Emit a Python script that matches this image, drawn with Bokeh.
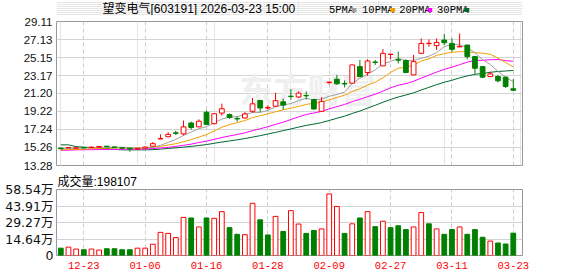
from bokeh.plotting import figure
from bokeh.models import Range1d, FixedTicker, Grid, PrintfTickFormatter, ColumnDataSource
from bokeh.core.properties import value
from bokeh.layouts import column
from bokeh.embed import file_html
from bokeh.resources import INLINE

# ---------------- data ----------------
stock_title = "望变电气[603191] 2026-03-23 15:00"
watermark = "东方财富"
dates = ["12-18", "12-19", "12-22", "12-23", "12-24", "12-25", "12-26", "12-29", "12-30", "12-31",
         "01-05", "01-06", "01-07", "01-08", "01-09", "01-12", "01-13", "01-14", "01-15", "01-16",
         "01-19", "01-20", "01-21", "01-22", "01-23", "01-26", "01-27", "01-28", "01-29", "01-30",
         "02-02", "02-03", "02-04", "02-05", "02-06", "02-09", "02-10", "02-11", "02-12", "02-13",
         "02-24", "02-25", "02-26", "02-27", "03-02", "03-03", "03-04", "03-05", "03-06", "03-09",
         "03-10", "03-11", "03-12", "03-13", "03-16", "03-17", "03-18", "03-19", "03-20", "03-23"]
opens = [15.20, 15.22, 15.18, 15.26, 15.24, 15.30, 15.40, 15.32, 15.24, 15.18,
         15.10, 15.18, 15.40, 16.20, 16.44, 16.88, 16.75, 17.95, 17.53, 19.13,
         17.88, 19.04, 18.88, 18.44, 18.51, 19.24, 20.42, 19.60, 19.80, 20.28,
         20.90, 20.81, 20.98, 20.52, 19.24, 22.40, 22.77, 22.30, 22.33, 24.15,
         23.50, 24.66, 24.23, 25.48, 24.90, 24.81, 23.24, 25.61, 26.68, 26.45,
         27.07, 26.70, 26.32, 26.52, 25.25, 24.15, 23.06, 23.06, 22.99, 21.72]
closes = [15.12, 15.26, 15.22, 15.22, 15.30, 15.36, 15.34, 15.24, 15.18, 15.10,
          15.16, 15.30, 15.68, 16.24, 16.70, 16.82, 17.53, 17.46, 18.15, 17.80,
          18.97, 19.52, 18.55, 18.40, 18.95, 20.06, 19.60, 19.66, 20.41, 19.92,
          20.86, 21.24, 20.94, 19.49, 20.33, 22.44, 22.26, 22.24, 24.34, 23.06,
          24.77, 24.60, 25.61, 25.52, 24.86, 23.50, 24.70, 26.70, 26.72, 26.81,
          26.77, 26.05, 26.36, 25.25, 23.97, 22.99, 23.35, 22.59, 21.97, 21.55]
highs = [15.22, 15.30, 15.26, 15.28, 15.38, 15.42, 15.44, 15.34, 15.26, 15.20,
         15.20, 15.40, 15.86, 16.70, 16.95, 17.10, 18.22, 18.10, 18.35, 19.33,
         19.06, 20.08, 18.99, 18.70, 19.15, 20.70, 20.50, 19.90, 21.28, 20.63,
         21.68, 21.43, 21.43, 20.62, 20.81, 22.52, 23.24, 22.63, 24.36, 24.88,
         24.95, 24.88, 26.08, 25.55, 25.80, 24.95, 25.43, 27.25, 27.14, 27.25,
         27.72, 27.25, 27.79, 26.52, 25.32, 24.22, 23.61, 23.24, 23.06, 22.77]
lows = [15.08, 15.18, 15.15, 15.18, 15.20, 15.28, 15.30, 15.20, 15.12, 14.80,
        15.05, 15.15, 15.38, 16.18, 16.40, 16.62, 16.59, 17.24, 17.50, 17.72,
        17.80, 18.75, 18.42, 18.10, 18.44, 19.06, 19.17, 19.42, 19.71, 19.42,
        20.52, 20.70, 20.52, 19.42, 19.24, 22.20, 22.15, 21.86, 22.30, 22.99,
        23.13, 24.34, 24.20, 24.95, 24.50, 23.43, 23.24, 25.61, 26.34, 25.97,
        26.52, 25.79, 26.30, 24.95, 23.35, 22.88, 23.00, 22.41, 21.79, 21.50]
volumes = [65000, 74000, 57000, 51000, 57000, 48000, 60000, 60000, 51000, 51000,
           65000, 65000, 100000, 205000, 196000, 159000, 338000, 333000, 253000, 333000,
           330000, 389000, 247000, 188000, 185000, 463000, 316000, 182000, 347000, 213000,
           398000, 279000, 196000, 222000, 236000, 546000, 435000, 196000, 281000, 333000,
           389000, 256000, 304000, 247000, 264000, 230000, 253000, 381000, 281000, 236000,
           188000, 230000, 253000, 188000, 230000, 162000, 128000, 111000, 102000, 198107]
vol_up = [0, 1, 1, 0, 1, 1, 0, 0, 0, 0,
          1, 1, 1, 1, 1, 1, 1, 0, 1, 0,
          1, 1, 0, 0, 1, 1, 0, 0, 1, 0,
          1, 1, 0, 0, 1, 1, 1, 0, 1, 0,
          1, 0, 1, 0, 0, 0, 1, 1, 0, 1,
          0, 0, 1, 0, 0, 0, 1, 0, 0, 0]
ma5 = [15.10, 15.15, 15.18, 15.20, 15.22, 15.27, 15.29, 15.29, 15.28, 15.24,
       15.20, 15.20, 15.28, 15.50, 15.82, 16.15, 16.59, 16.95, 17.33, 17.55,
       17.98, 18.38, 18.60, 18.65, 18.88, 19.10, 19.11, 19.33, 19.74, 19.93,
       20.09, 20.42, 20.67, 20.49, 20.57, 20.89, 21.09, 21.35, 22.32, 22.87,
       23.33, 23.80, 24.48, 24.71, 25.07, 24.82, 24.84, 25.06, 25.30, 25.69,
       26.34, 26.61, 26.54, 26.25, 25.68, 24.92, 24.38, 23.63, 22.97, 22.49]
ma10 = [15.00, 15.02, 15.05, 15.08, 15.12, 15.16, 15.19, 15.21, 15.22, 15.23,
        15.24, 15.24, 15.29, 15.39, 15.53, 15.68, 15.90, 16.12, 16.41, 16.68,
        17.07, 17.49, 17.77, 17.99, 18.22, 18.54, 18.75, 18.97, 19.19, 19.40,
        19.59, 19.77, 20.00, 20.11, 20.25, 20.49, 20.76, 21.01, 21.41, 21.72,
        22.11, 22.45, 22.91, 23.52, 23.97, 24.08, 24.32, 24.77, 25.00, 25.38,
        25.58, 25.72, 25.80, 25.77, 25.68, 25.63, 25.50, 25.09, 24.61, 24.09]
ma20 = [14.95, 14.96, 15.00, 15.01, 15.02, 15.03, 15.04, 15.05, 15.06, 15.07,
        15.08, 15.10, 15.14, 15.20, 15.28, 15.38, 15.50, 15.63, 15.80, 15.96,
        16.15, 16.36, 16.53, 16.69, 16.87, 17.11, 17.32, 17.54, 17.80, 18.04,
        18.33, 18.63, 18.89, 19.05, 19.23, 19.51, 19.75, 19.99, 20.30, 20.56,
        20.85, 21.11, 21.46, 21.82, 22.11, 22.28, 22.54, 22.89, 23.21, 23.55,
        23.85, 24.09, 24.36, 24.64, 24.83, 24.85, 24.91, 24.93, 24.81, 24.73]
ma30 = [15.55, 15.55, 15.35, 15.30, 15.25, 15.20, 15.15, 15.05, 15.00, 15.00,
        15.00, 15.00, 15.02, 15.08, 15.15, 15.22, 15.30, 15.38, 15.48, 15.58,
        15.72, 15.86, 15.98, 16.10, 16.24, 16.40, 16.56, 16.74, 16.92, 17.11,
        17.30, 17.50, 17.69, 17.83, 18.00, 18.23, 18.47, 18.70, 19.00, 19.27,
        19.59, 19.90, 20.23, 20.54, 20.81, 21.03, 21.27, 21.58, 21.87, 22.17,
        22.43, 22.65, 22.91, 23.13, 23.30, 23.40, 23.52, 23.62, 23.67, 23.73]
price_ticks = [13.28, 15.26, 17.24, 19.22, 21.20, 23.17, 25.15, 27.13, 29.11]
vol_ticks = [0, 146350, 292700, 439050, 585400]
vol_tick_labels = ["0", "14.64万", "29.27万", "43.91万", "58.54万"]
date_tick_idx = [3, 11, 19, 27, 35, 43, 51, 59]
ma_names = ["5PMA", "10PMA", "20PMA", "30PMA"]

# ---------------- styles / layout ----------------
RED = "#ff0000"
GREEN = "#008000"
MA_COLORS = ["#a0a0a0", "#f0a000", "#ff00ff", "#006830"]
GRID = "#d4d4d4"
VGRID = "#cccccc"
FRAME = "#999999"
MIXED_FONT = "Liberation Sans, Noto Sans CJK SC"
W = 578
LEFT, RIGHT = 56, 56
XR = (-0.56, 60.2)
FRAME_W = W - LEFT - RIGHT
HEAD_H = 15
P_TOP, P_FRAME_H, P_BOT = 6, 144, 6
V_TOP, V_FRAME_H, V_BOT = 16, 68, 21

def x_at(px):
    return XR[0] + (px - LEFT) * (XR[1] - XR[0]) / FRAME_W

def y_at(rng, frame_top_px, frame_h, px):
    return rng[1] - (px - frame_top_px) * (rng[1] - rng[0]) / frame_h

n = len(dates)
xs = list(range(n))
cup = [c > o or (c == o and i > 0 and c >= closes[i - 1]) for i, (o, c) in enumerate(zip(opens, closes))]
src = ColumnDataSource(dict(
    x=xs, top=[max(o, c) for o, c in zip(opens, closes)],
    bottom=[min(o, c) for o, c in zip(opens, closes)],
    high=highs, low=lows,
    col=[RED if u else GREEN for u in cup], fill=["#ffffff" if u else GREEN for u in cup],
    vol=volumes, vcol=[RED if u else GREEN for u in vol_up],
    vfill=["#ffffff" if u else GREEN for u in vol_up]))

# ---------------- header: title + MA legend ----------------
ph = figure(width=W, height=HEAD_H, x_range=Range1d(0, W), y_range=Range1d(HEAD_H, 0),
            output_backend="svg", toolbar_location=None, x_axis_location=None, y_axis_location=None,
            min_border=0, outline_line_color=None, background_fill_color="white",
            border_fill_color="white")
ph.text(x=[57], y=[8.5], text=[stock_title], text_font=value(MIXED_FONT), text_font_size="12px",
        text_color="#000000", text_baseline="middle")
leg_text_x = [338, 379, 425, 472]
leg_box_x = [366, 414, 460, 506]
ph.text(x=leg_text_x, y=[9] * 4, text=ma_names, text_font=value("Liberation Mono"),
        text_font_size="10.5px", text_color="#000000", text_baseline="middle")
ph.rect(x=[b + 3 for b in leg_box_x], y=[9.5] * 4, width=6, height=4, fill_color=MA_COLORS,
        line_color=None)

# ---------------- price panel ----------------
PY = (price_ticks[0], price_ticks[-1])
p1 = figure(width=W, height=P_TOP + P_FRAME_H + P_BOT, x_range=Range1d(*XR), y_range=Range1d(*PY),
            output_backend="svg", toolbar_location=None, x_axis_location=None,
            min_border_left=LEFT, min_border_right=RIGHT, min_border_top=P_TOP, min_border_bottom=P_BOT,
            outline_line_color=FRAME, background_fill_color="white", border_fill_color="white")
p1.yaxis.ticker = FixedTicker(ticks=price_ticks)
p1.yaxis.formatter = PrintfTickFormatter(format="%.2f")
p1.yaxis.axis_line_color = None
p1.yaxis.major_tick_line_color = None
p1.yaxis.minor_tick_line_color = None
p1.yaxis.major_tick_out = 0
p1.yaxis.major_label_standoff = 4
p1.yaxis.major_label_text_font = "Liberation Sans"
p1.yaxis.major_label_text_font_size = "11.5px"
p1.yaxis.major_label_text_color = "#111111"
p1.ygrid.ticker = FixedTicker(ticks=price_ticks)
p1.ygrid.grid_line_color = GRID
p1.add_layout(Grid(dimension=0, ticker=FixedTicker(ticks=date_tick_idx), grid_line_color=VGRID,
                   grid_line_dash="4 3"))

# faint watermark
p1.text(x=[x_at(307)], y=[y_at(PY, 21, P_FRAME_H, 88)], text=[watermark],
        text_font=value("Noto Sans CJK SC"), text_font_size="34px", text_font_style="bold",
        text_color="#efefef", text_align="center", text_baseline="middle")

for vals, colr in zip([ma30, ma20, ma10, ma5], MA_COLORS[::-1]):
    p1.line(xs, vals, line_color=colr, line_width=1)
p1.segment(x0="x", y0="high", x1="x", y1="low", line_color="col", line_width=1, source=src)
p1.vbar(x="x", top="top", bottom="bottom", width=0.62, fill_color="fill", line_color="col",
        line_width=1, source=src)

# ---------------- volume panel ----------------
VY = (vol_ticks[0], vol_ticks[-1])
p2 = figure(width=W, height=V_TOP + V_FRAME_H + V_BOT, x_range=p1.x_range, y_range=Range1d(*VY),
            output_backend="svg", toolbar_location=None, title="成交量:" + str(volumes[-1]),
            min_border_left=LEFT, min_border_right=RIGHT, min_border_top=V_TOP, min_border_bottom=V_BOT,
            outline_line_color=FRAME, background_fill_color="white", border_fill_color="white")
p2.title.align = "left"
p2.title.offset = 1
p2.title.standoff = 2
p2.title.text_font = MIXED_FONT
p2.title.text_font_size = "12px"
p2.title.text_font_style = "normal"
p2.title.text_color = "#000000"
p2.yaxis.ticker = FixedTicker(ticks=vol_ticks)
p2.yaxis.major_label_overrides = {t: s for t, s in zip(vol_ticks, vol_tick_labels)}
p2.yaxis.axis_line_color = None
p2.yaxis.major_tick_line_color = None
p2.yaxis.minor_tick_line_color = None
p2.yaxis.major_tick_out = 0
p2.yaxis.major_label_standoff = 3
p2.yaxis.major_label_text_font = "DejaVu Sans, Noto Sans CJK SC"
p2.yaxis.major_label_text_font_size = "12.5px"
p2.yaxis.major_label_text_color = "#111111"
p2.xaxis.ticker = FixedTicker(ticks=date_tick_idx)
p2.xaxis.major_label_overrides = {i: dates[i] for i in date_tick_idx}
p2.xaxis.axis_line_color = None
p2.xaxis.major_tick_line_color = None
p2.xaxis.minor_tick_line_color = None
p2.xaxis.major_tick_out = 0
p2.xaxis.major_label_standoff = 6
p2.xaxis.major_label_text_font = "Liberation Mono"
p2.xaxis.major_label_text_font_size = "10.5px"
p2.xaxis.major_label_text_color = RED
p2.ygrid.ticker = FixedTicker(ticks=vol_ticks)
p2.ygrid.grid_line_color = GRID
p2.xgrid.ticker = FixedTicker(ticks=date_tick_idx)
p2.xgrid.grid_line_color = VGRID
p2.xgrid.grid_line_dash = "4 3"
p2.vbar(x="x", top="vol", bottom=0, width=0.62, fill_color="vfill", line_color="vcol",
        line_width=1, source=src)

layout = column(ph, p1, p2, spacing=0)
open("out.html", "w").write(file_html(layout, INLINE))
